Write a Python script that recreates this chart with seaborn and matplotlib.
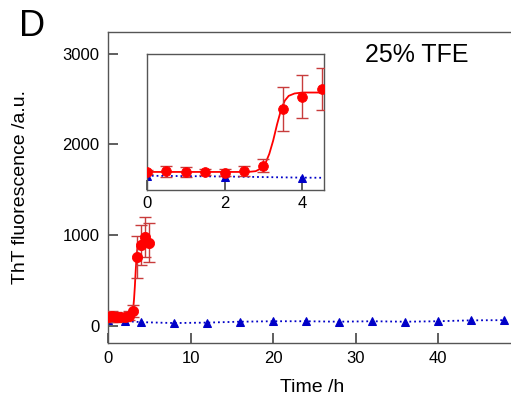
import numpy as np
import pandas as pd
import seaborn as sns
import matplotlib.pyplot as plt

sns.set_style("ticks")
plt.rcParams['font.family'] = ['Liberation Sans', 'DejaVu Sans']
plt.rcParams['text.color'] = 'black'
plt.rcParams['axes.labelcolor'] = 'black'
plt.rcParams['xtick.labelcolor'] = 'black'
plt.rcParams['ytick.labelcolor'] = 'black'

# red: ThT kinetics with error bars
t_red = [0, 0.5, 1, 1.5, 2, 2.5, 3, 3.5, 4, 4.5, 5]
tht_red = [100, 105, 100, 100, 93, 110, 166, 762, 890, 975, 915]
err_red = [25, 60, 55, 30, 35, 50, 65, 230, 225, 220, 215]

# sigmoid fit line
t_fit = [0, 2.6, 2.8, 2.95, 3.05, 3.15, 3.25, 3.35, 3.45, 3.55, 3.65, 3.8, 4.0, 5.0]
tht_fit = [100, 100, 108, 140, 190, 290, 430, 600, 750, 850, 900, 925, 935, 935]

# blue: control
t_blue = [0, 2, 4, 8, 12, 16, 20, 24, 28, 32, 36, 40, 44, 48]
tht_blue = [60, 52, 40, 30, 35, 45, 50, 50, 45, 50, 45, 50, 60, 62]

red_df = pd.DataFrame({"t": t_red, "y": tht_red})
fit_df = pd.DataFrame({"t": t_fit, "y": tht_fit})
blue_df = pd.DataFrame({"t": t_blue, "y": tht_blue})

RED = "#ff0000"
ERR = "#c83c3c"
BLUE = "#0000c8"
FRAME = "#555555"

fig = plt.figure(figsize=(5.11, 4.08), dpi=100)
ax = fig.add_axes([0.2114, 0.1593, 0.80, 0.7623])
ins = fig.add_axes([0.2877, 0.5343, 0.3464, 0.3333])


def draw(a, ms):
    sns.lineplot(x="t", y="y", data=blue_df, ax=a, color=BLUE, linestyle=":",
                 lw=1.3, marker="^", markersize=ms, markeredgecolor=BLUE, zorder=2)
    sns.lineplot(x="t", y="y", data=fit_df, ax=a, color=RED, lw=1.3, zorder=3)
    a.errorbar(t_red, tht_red, yerr=err_red, fmt="none", ecolor=ERR,
               elinewidth=1, capsize=4, zorder=3)
    sns.scatterplot(x="t", y="y", data=red_df, ax=a, color=RED, s=ms * 9,
                    edgecolor=RED, zorder=4)
    for s in a.spines.values():
        s.set_color(FRAME)
        s.set_linewidth(1)
    a.set_xlabel("")
    a.set_ylabel("")


draw(ax, 6)
ax.set_xlim(0, 49.55)
ax.set_ylim(-190, 3240)
ax.set_xticks([0, 10, 20, 30, 40])
ax.set_yticks([0, 1000, 2000, 3000])
ax.tick_params(direction="in", labelsize=12, length=7, width=1.1,
               color="#333333", pad=6)
ax.set_xlabel("Time /h", fontsize=14, labelpad=9)
ax.set_ylabel("ThT fluorescence /a.u.", fontsize=14, labelpad=24)
ax.text(0.755, 0.925, "25% TFE", transform=ax.transAxes, fontsize=18,
        ha="center", va="center")

draw(ins, 5.5)
ins.set_xlim(0.02, 4.56)
ins.set_ylim(-90, 1340)
ins.set_xticks([0, 2, 4])
ins.set_yticks([])
ins.tick_params(direction="in", labelsize=12, length=7, width=1.1,
                color="#333333", pad=4)

fig.text(0.038, 0.935, "D", fontsize=26, ha="left", va="center")

fig.savefig("out.png", dpi=100)
